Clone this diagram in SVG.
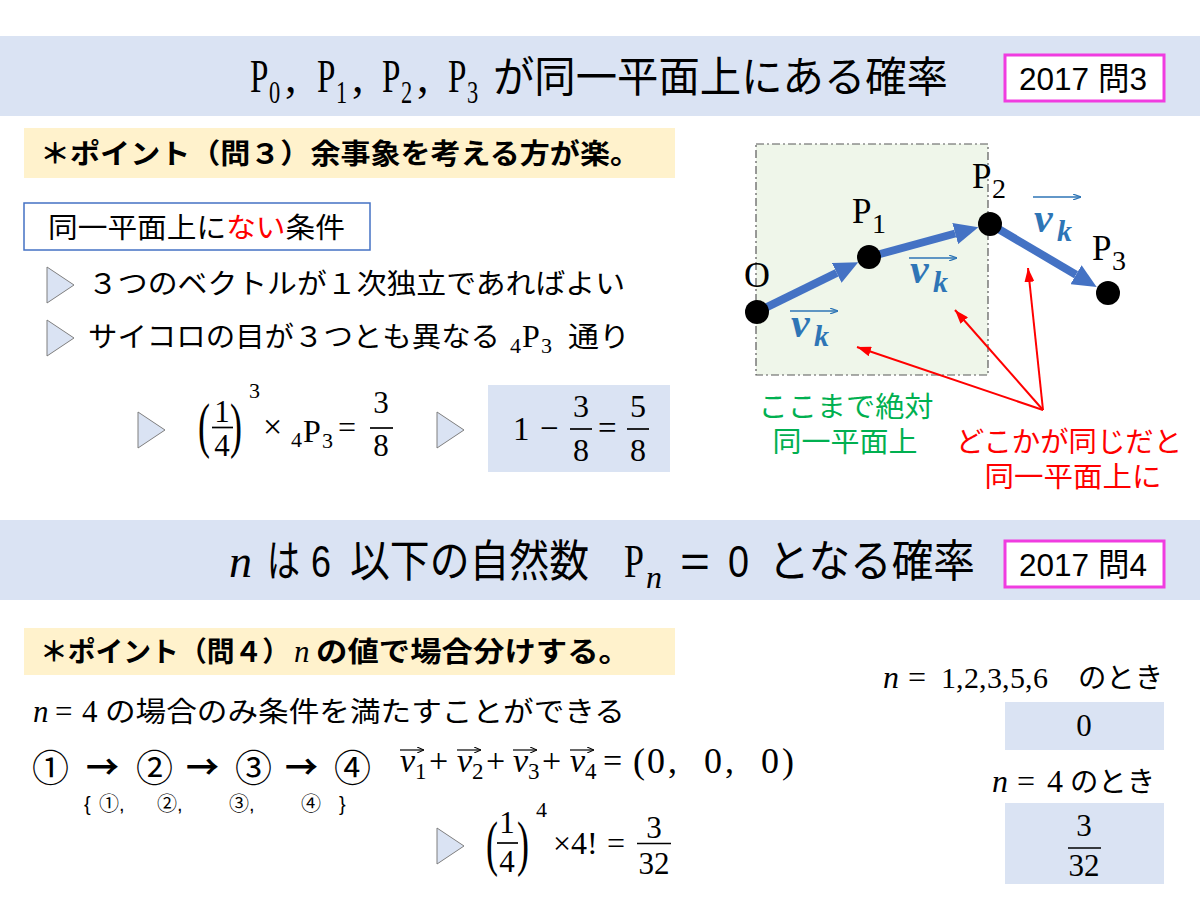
<svg xmlns="http://www.w3.org/2000/svg" width="1200" height="900" viewBox="0 0 1200 900">
<style>
.jp{font-family:"Noto Sans CJK JP","Noto Sans",sans-serif;fill:#000}
.ls{font-family:"Liberation Sans","Noto Sans CJK JP",sans-serif;fill:#000}
.m{font-family:"Liberation Serif","DejaVu Serif",serif;fill:#000}
.i{font-style:italic}
.band{fill:#dae3f3}
.pt{fill:#fff2cc}
.pink{fill:#fff;stroke:#f03ce0;stroke-width:3}
.nar{font-family:"Liberation Sans",Arial,"Noto Sans CJK JP",sans-serif;fill:#000}
.fl{stroke:#000;stroke-width:1.7}
.ans{fill:#dae3f3}
.vk{font-family:"Liberation Serif","DejaVu Serif",serif;font-style:italic;font-weight:bold;fill:#2e75b6}
.node{fill:#000}
.blue{stroke:#4472c4;stroke-width:8;fill:none}
.red{stroke:#ff0000;stroke-width:2;fill:none}
.va{stroke:#2e75b6;stroke-width:1.5;fill:none}
.ka{stroke:#000;stroke-width:1.2;fill:none}
.grn{fill:#00b050}
.rd{fill:#ff0000}
</style>
<defs>
<path id="tri" d="M0,0 L27,18 L0,36 z" fill="#dae3f3" stroke="#7f7f7f" stroke-width="1"/>
<marker id="bh" markerUnits="userSpaceOnUse" viewBox="0 0 24 22" markerWidth="24" markerHeight="22" refX="0" refY="11" orient="auto"><path d="M0,0 L24,11 L0,22 z" fill="#4472c4"/></marker>
<marker id="rh" markerUnits="userSpaceOnUse" viewBox="0 0 14 10" markerWidth="14" markerHeight="10" refX="14" refY="5" orient="auto"><path d="M0,0 L14,5 L0,10 z" fill="#ff0000"/></marker>
<marker id="sbh" markerUnits="userSpaceOnUse" viewBox="0 0 8 6" markerWidth="8" markerHeight="6" refX="8" refY="3" orient="auto"><path d="M0,0 L8,3 L0,6" fill="none" stroke="#2e75b6" stroke-width="1.2"/></marker>
<marker id="skh" markerUnits="userSpaceOnUse" viewBox="0 0 7 6" markerWidth="7" markerHeight="6" refX="7" refY="3" orient="auto"><path d="M0,0 L7,3 L0,6" fill="none" stroke="#000" stroke-width="1.1"/></marker>
</defs>
<rect width="1200" height="900" fill="#fff"/>

<g id="title1">
<rect class="band" x="0" y="36" width="1200" height="80"/>
<g class="m">
<text transform="translate(250,92) scale(0.72,1)" font-size="46">P</text>
<text transform="translate(269,103) scale(0.7,1)" font-size="32">0</text>
<text x="285" y="92" font-size="46">,</text>
<text transform="translate(317,92) scale(0.72,1)" font-size="46">P</text>
<text transform="translate(336,103) scale(0.7,1)" font-size="32">1</text>
<text x="352" y="92" font-size="46">,</text>
<text transform="translate(382,92) scale(0.72,1)" font-size="46">P</text>
<text transform="translate(401,103) scale(0.7,1)" font-size="32">2</text>
<text x="417" y="92" font-size="46">,</text>
<text transform="translate(448,92) scale(0.72,1)" font-size="46">P</text>
<text transform="translate(467,103) scale(0.7,1)" font-size="32">3</text>
</g>
<text class="jp" x="493" y="92" font-size="42" textLength="455" lengthAdjust="spacingAndGlyphs">が同一平面上にある確率</text>
<rect class="pink" x="1005" y="55" width="159" height="46"/>
<text class="nar" x="1019" y="90" font-size="32" textLength="128" lengthAdjust="spacingAndGlyphs">2017 問3</text>
</g>

<g id="point3">
<rect class="pt" x="24" y="128" width="651" height="50"/>
<text class="jp" x="40" y="164" font-size="28" font-weight="bold" textLength="600" lengthAdjust="spacingAndGlyphs">＊ポイント（問３）余事象を考える方が楽。</text>
</g>

<g id="cond">
<rect x="24" y="203" width="346" height="47" fill="#fff" stroke="#4472c4" stroke-width="1.5"/>
<text class="jp" x="48" y="238" font-size="28" textLength="297" lengthAdjust="spacingAndGlyphs">同一平面上に<tspan class="rd">ない</tspan>条件</text>
</g>

<g id="row1">
<use href="#tri" x="47" y="267"/>
<text class="jp" x="88" y="294" font-size="28" textLength="537" lengthAdjust="spacingAndGlyphs">３つのベクトルが１次独立であればよい</text>
</g>

<g id="row2">
<use href="#tri" x="47" y="320"/>
<text class="jp" x="88" y="347" font-size="28" textLength="412" lengthAdjust="spacingAndGlyphs">サイコロの目が３つとも異なる</text>
<text class="m" x="510" y="353" font-size="22">4</text>
<text class="m" x="522" y="347" font-size="32">P</text>
<text class="m" x="541" y="353" font-size="22">3</text>
<text class="jp" x="568" y="347" font-size="28" textLength="62" lengthAdjust="spacingAndGlyphs">通り</text>
</g>

<g id="formula3">
<use href="#tri" x="138" y="412"/>
<text class="m" transform="translate(198,446) scale(1,1.7)" font-size="36">(</text>
<text class="m" transform="translate(230,446) scale(1,1.7)" font-size="36">)</text>
<text class="m" x="222" y="422" font-size="31" text-anchor="middle">1</text>
<line class="fl" x1="212" y1="427.5" x2="233" y2="427.5"/>
<text class="m" x="222" y="456" font-size="31" text-anchor="middle">4</text>
<text class="m" x="249" y="398" font-size="22">3</text>
<text class="m" x="263" y="438" font-size="34">×</text>
<text class="m" x="291" y="447" font-size="22">4</text>
<text class="m" x="303" y="442" font-size="32">P</text>
<text class="m" x="322" y="448" font-size="22">3</text>
<text class="m" x="338" y="438" font-size="32">=</text>
<text class="m" x="381" y="413" font-size="31" text-anchor="middle">3</text>
<line class="fl" x1="370" y1="428" x2="393" y2="428"/>
<text class="m" x="381" y="456" font-size="31" text-anchor="middle">8</text>
<use href="#tri" x="437" y="412"/>
<rect class="ans" x="488" y="385" width="182" height="87"/>
<text class="m" x="513" y="440" font-size="33">1</text>
<text class="m" x="540" y="439" font-size="33">−</text>
<text class="m" x="581" y="417" font-size="32" text-anchor="middle">3</text>
<line class="fl" x1="570" y1="429" x2="592" y2="429"/>
<text class="m" x="581" y="461" font-size="32" text-anchor="middle">8</text>
<text class="m" x="598" y="439" font-size="33">=</text>
<text class="m" x="638" y="417" font-size="32" text-anchor="middle">5</text>
<line class="fl" x1="627" y1="429" x2="649" y2="429"/>
<text class="m" x="638" y="461" font-size="32" text-anchor="middle">8</text>
</g>

<g id="plane">
<rect x="756" y="144" width="232" height="231" fill="#eff6ea" stroke="#595959" stroke-width="1.2" stroke-dasharray="8 3 2 3"/>
</g>

<g id="connectors">
<line class="blue" x1="757" y1="312" x2="836.7" y2="272.9" marker-end="url(#bh)"/>
<line class="blue" x1="869" y1="257" x2="955.2" y2="233.5" marker-end="url(#bh)"/>
<line class="blue" x1="990" y1="224" x2="1076" y2="274.7" marker-end="url(#bh)"/>
<line class="red" x1="1043" y1="410" x2="857" y2="347" marker-end="url(#rh)"/>
<line class="red" x1="1043" y1="410" x2="955" y2="310" marker-end="url(#rh)"/>
<line class="red" x1="1043" y1="410" x2="1028" y2="268" marker-end="url(#rh)"/>
</g>

<g id="nodeO">
<circle class="node" cx="757" cy="312" r="12"/>
<text class="m" x="757" y="287" font-size="36" text-anchor="middle">O</text>
</g>
<g id="nodeP1">
<circle class="node" cx="869" cy="257" r="12"/>
<text class="m" x="852" y="223" font-size="35">P</text>
<text class="m" x="872" y="233" font-size="28">1</text>
</g>
<g id="nodeP2">
<circle class="node" cx="990" cy="224" r="12"/>
<text class="m" x="972" y="188" font-size="35">P</text>
<text class="m" x="992" y="198" font-size="28">2</text>
</g>
<g id="nodeP3">
<circle class="node" cx="1108" cy="293" r="12"/>
<text class="m" x="1092" y="260" font-size="35">P</text>
<text class="m" x="1112" y="270" font-size="28">3</text>
</g>

<g id="vk1">
<line class="va" x1="790" y1="311" x2="838" y2="311" marker-end="url(#sbh)"/>
<text class="vk" x="791" y="337" font-size="42">v</text>
<text class="vk" x="814" y="346" font-size="30">k</text>
</g>
<g id="vk2">
<line class="va" x1="909" y1="258" x2="957" y2="258" marker-end="url(#sbh)"/>
<text class="vk" x="910" y="283" font-size="42">v</text>
<text class="vk" x="933" y="292" font-size="30">k</text>
</g>
<g id="vk3">
<line class="va" x1="1033" y1="197" x2="1081" y2="197" marker-end="url(#sbh)"/>
<text class="vk" x="1034" y="232" font-size="42">v</text>
<text class="vk" x="1057" y="241" font-size="30">k</text>
</g>

<g id="greenNote">
<text class="ls grn" x="846" y="417" font-size="28" text-anchor="middle" textLength="175" lengthAdjust="spacingAndGlyphs">ここまで絶対</text>
<text class="ls grn" x="845" y="452" font-size="28" text-anchor="middle" textLength="145" lengthAdjust="spacingAndGlyphs">同一平面上</text>
</g>
<g id="redNote">
<text class="ls rd" x="1069" y="452" font-size="28" text-anchor="middle" textLength="226" lengthAdjust="spacingAndGlyphs">どこかが同じだと</text>
<text class="ls rd" x="1073" y="487" font-size="28" text-anchor="middle" textLength="177" lengthAdjust="spacingAndGlyphs">同一平面上に</text>
</g>

<g id="title2">
<rect class="band" x="0" y="520" width="1200" height="80"/>
<text class="m i" x="229" y="577" font-size="46">n</text>
<text class="jp" x="267" y="577" font-size="44" textLength="33" lengthAdjust="spacingAndGlyphs">は</text>
<text class="nar" x="311" y="577" font-size="44" textLength="20" lengthAdjust="spacingAndGlyphs">6</text>
<text class="jp" x="350" y="577" font-size="44" textLength="239" lengthAdjust="spacingAndGlyphs">以下の自然数</text>
<text class="m" transform="translate(624,577) scale(0.78,1)" font-size="46">P</text>
<text class="m i" x="646" y="588" font-size="32">n</text>
<text class="nar" x="680" y="577" font-size="44" textLength="30" lengthAdjust="spacingAndGlyphs">=</text>
<text class="nar" x="728" y="577" font-size="44" textLength="21" lengthAdjust="spacingAndGlyphs">0</text>
<text class="jp" x="768" y="577" font-size="44" textLength="207" lengthAdjust="spacingAndGlyphs">となる確率</text>
<rect class="pink" x="1005" y="541" width="159" height="46"/>
<text class="nar" x="1019" y="576" font-size="32" textLength="128" lengthAdjust="spacingAndGlyphs">2017 問4</text>
</g>

<g id="point4">
<rect class="pt" x="24" y="628" width="651" height="47"/>
<text class="jp" x="40" y="662" font-size="28" font-weight="bold" textLength="250" lengthAdjust="spacingAndGlyphs">＊ポイント（問４）</text>
<text class="m i" x="294" y="662" font-size="31">n</text>
<text class="jp" x="316" y="662" font-size="28" font-weight="bold" textLength="314" lengthAdjust="spacingAndGlyphs">の値で場合分けする。</text>
</g>

<g id="case4">
<text class="m i" x="33" y="722" font-size="31">n</text>
<text class="m" x="55" y="722" font-size="31">=</text>
<text class="m" x="82" y="722" font-size="31">4</text>
<text class="jp" x="105" y="722" font-size="28" textLength="520" lengthAdjust="spacingAndGlyphs">の場合のみ条件を満たすことができる</text>
</g>

<g id="seq">
<text class="ls" font-size="37" y="782"><tspan x="32">①</tspan><tspan x="136">②</tspan><tspan x="235">③</tspan><tspan x="334">④</tspan></text>
<text class="jp" font-size="33" y="779" font-weight="bold"><tspan x="86">→</tspan><tspan x="186">→</tspan><tspan x="285">→</tspan></text>
<text class="ls" font-size="20" y="811"><tspan x="84">{</tspan><tspan x="99">①,</tspan><tspan x="157">②,</tspan><tspan x="229">③,</tspan><tspan x="301">④</tspan><tspan x="339">}</tspan></text>
</g>

<g id="vecsum">
<line class="ka" x1="400" y1="750" x2="424" y2="750" marker-end="url(#skh)"/>
<line class="ka" x1="457" y1="750" x2="481" y2="750" marker-end="url(#skh)"/>
<line class="ka" x1="513" y1="750" x2="537" y2="750" marker-end="url(#skh)"/>
<line class="ka" x1="570" y1="750" x2="594" y2="750" marker-end="url(#skh)"/>
<text class="m i" x="400" y="772" font-size="34">v</text>
<text class="m" x="415" y="779" font-size="23">1</text>
<text class="m" x="429" y="772" font-size="34">+</text>
<text class="m i" x="457" y="772" font-size="34">v</text>
<text class="m" x="472" y="779" font-size="23">2</text>
<text class="m" x="486" y="772" font-size="34">+</text>
<text class="m i" x="513" y="772" font-size="34">v</text>
<text class="m" x="528" y="779" font-size="23">3</text>
<text class="m" x="542" y="772" font-size="34">+</text>
<text class="m i" x="570" y="772" font-size="34">v</text>
<text class="m" x="585" y="779" font-size="23">4</text>
<text class="m" x="603" y="772" font-size="34">=</text>
<text class="m" font-size="36" y="773"><tspan x="633">(</tspan><tspan x="647">0</tspan><tspan x="668">,</tspan><tspan x="704">0</tspan><tspan x="725">,</tspan><tspan x="761">0</tspan><tspan x="782">)</tspan></text>
</g>

<g id="formula4">
<use href="#tri" x="437" y="828"/>
<text class="m" transform="translate(486,864) scale(1,1.7)" font-size="36">(</text>
<text class="m" transform="translate(517,864) scale(1,1.7)" font-size="36">)</text>
<text class="m" x="507" y="833" font-size="31" text-anchor="middle">1</text>
<line class="fl" x1="497" y1="843" x2="518" y2="843"/>
<text class="m" x="507" y="872" font-size="31" text-anchor="middle">4</text>
<text class="m" x="536" y="817" font-size="22">4</text>
<text class="m" x="553" y="854" font-size="32">×4!</text>
<text class="m" x="607" y="854" font-size="32">=</text>
<text class="m" x="654" y="838" font-size="31" text-anchor="middle">3</text>
<line class="fl" x1="637" y1="843.5" x2="671" y2="843.5"/>
<text class="m" x="654" y="874" font-size="31" text-anchor="middle">32</text>
</g>

<g id="resultOther">
<text class="m i" x="883" y="688" font-size="32">n</text>
<text class="m" x="908" y="688" font-size="32">=</text>
<text class="m" font-size="30" y="688"><tspan x="941">1,</tspan><tspan x="964">2,</tspan><tspan x="987">3,</tspan><tspan x="1010">5,</tspan><tspan x="1033">6</tspan></text>
<text class="jp" x="1078" y="688" font-size="28" textLength="85" lengthAdjust="spacingAndGlyphs">のとき</text>
<rect class="ans" x="1005" y="702" width="159" height="48"/>
<text class="m" x="1084" y="736" font-size="31" text-anchor="middle">0</text>
</g>

<g id="result4">
<text class="m i" x="992" y="792" font-size="32">n</text>
<text class="m" x="1017" y="792" font-size="32">=</text>
<text class="m" x="1047" y="792" font-size="32">4</text>
<text class="jp" x="1070" y="792" font-size="28" textLength="85" lengthAdjust="spacingAndGlyphs">のとき</text>
<rect class="ans" x="1005" y="803" width="159" height="81"/>
<text class="m" x="1084" y="836" font-size="31" text-anchor="middle">3</text>
<line class="fl" x1="1068" y1="848" x2="1101" y2="848"/>
<text class="m" x="1084" y="876" font-size="31" text-anchor="middle">32</text>
</g>
</svg>
